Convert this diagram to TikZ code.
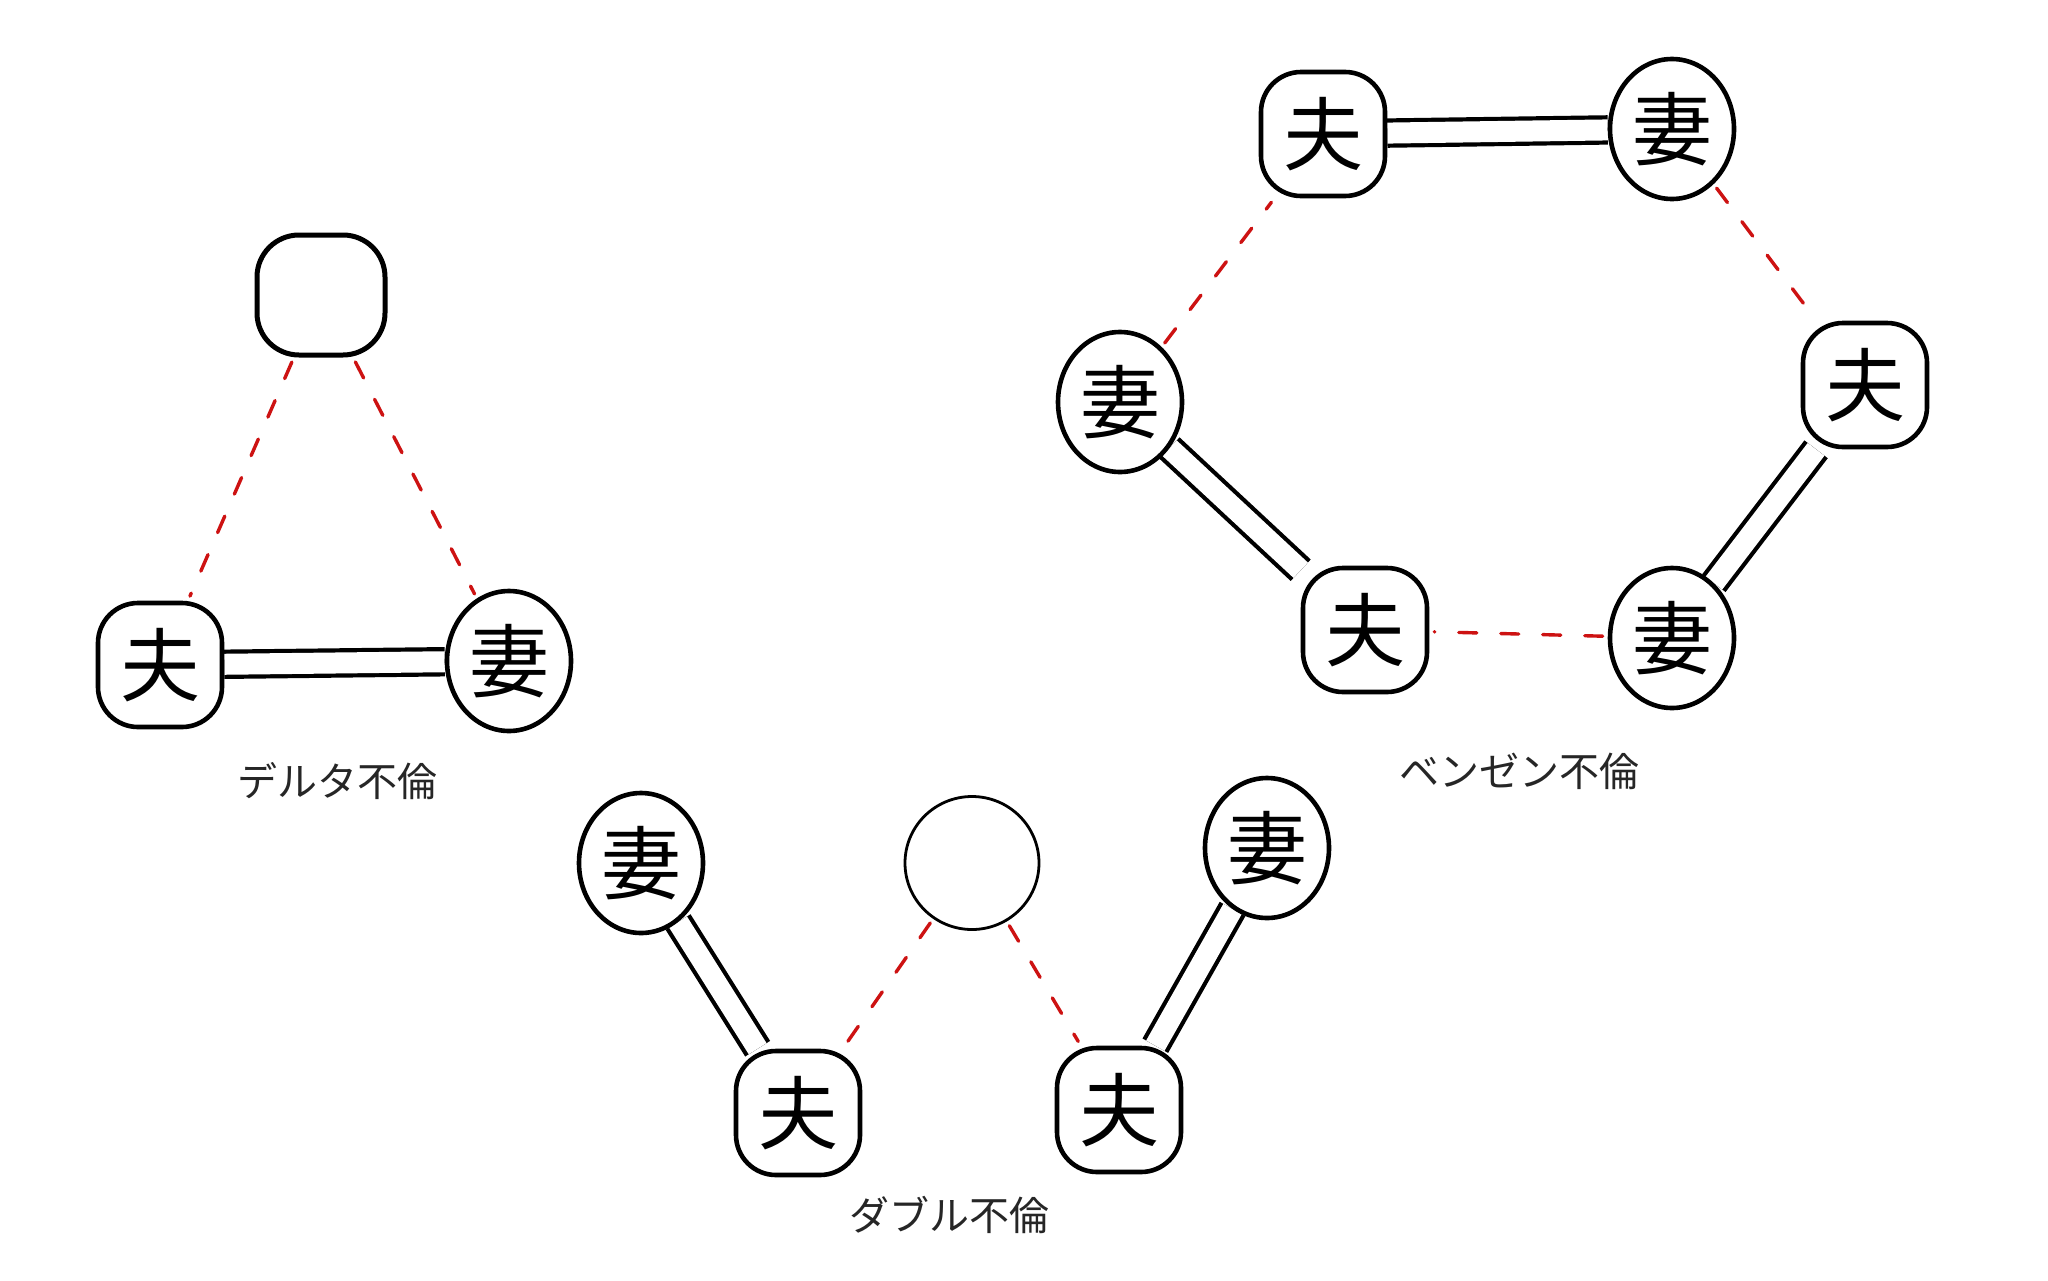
\documentclass[tikz,border=0pt]{standalone}
\usepackage{fontspec}
\newfontfamily\cjk{Noto Sans CJK JP}
\usetikzlibrary{shapes.geometric,backgrounds}
\definecolor{affred}{RGB}{205,18,18}
\begin{document}
\begin{tikzpicture}[x=1pt,y=-1pt,
  hw/.style={draw, line width=4.6pt, inner sep=0pt, font=\cjk\fontsize{80}{80}\selectfont},
  otto/.style={hw, rectangle, rounded corners=40pt, minimum width=124pt, minimum height=124pt},
  tsuma/.style={hw, ellipse, minimum width=124pt, minimum height=140pt},
  blank/.style={draw, line width=5pt, rectangle, rounded corners=42pt, minimum width=128pt, minimum height=120pt},
  circ/.style={draw, line width=2.8pt, ellipse, minimum width=134pt, minimum height=133pt},
  bond/.style={line width=4.2pt, double, double distance=21pt},
  affair/.style={draw=affred, line width=3.4pt, dash pattern=on 18pt off 24pt, line cap=round, shorten <=5pt, shorten >=5pt},
  lbl/.style={font=\cjk\fontsize{40}{40}\selectfont, text=black!85}
]
\useasboundingbox (0,0) rectangle (2048,1280);

% Delta
\node[blank] (dN) at (321,295) {};
\node[otto]  (dH) at (160,665) {夫};
\node[tsuma] (dW) at (509,661) {妻};
\node[lbl]   (dL) at (337,781) {デルタ不倫};

% Benzene
\node[otto]  (bH1) at (1323,134) {夫};
\node[tsuma] (bW1) at (1672,129) {妻};
\node[otto]  (bH2) at (1865,385) {夫};
\node[tsuma] (bW2) at (1672,638) {妻};
\node[otto]  (bH3) at (1365,630) {夫};
\node[tsuma] (bW3) at (1120,402) {妻};
\node[lbl]   (bL) at (1519,771) {ベンゼン不倫};

% Double
\node[tsuma] (wW1) at (641,863) {妻};
\node[circ]  (wC)  at (972,863) {};
\node[tsuma] (wW2) at (1267,848) {妻};
\node[otto]  (wH1) at (798,1113) {夫};
\node[otto]  (wH2) at (1119,1110) {夫};
\node[lbl]   (wL) at (949,1215) {ダブル不倫};

\begin{pgfonlayer}{background}
  \fill[white] (0,0) rectangle (2048,1280);
  \draw[bond] (dH) -- (dW);
  \draw[affair] (dN) -- (dH);
  \draw[affair] (dN) -- (dW);

  \draw[bond] (bH1) -- (bW1);
  \draw[bond] (bH2) -- (bW2);
  \draw[bond] (bH3) -- (bW3);
  \draw[affair] (bW1) -- (bH2);
  \draw[affair] (bW2) -- (bH3);
  \draw[affair] (bW3) -- (bH1);

  \draw[bond] (wW1) -- (wH1);
  \draw[bond] (wW2) -- (wH2);
  \draw[affair] (wC) -- (wH1);
  \draw[affair] (wC) -- (wH2);
\end{pgfonlayer}
\end{tikzpicture}
\end{document}
